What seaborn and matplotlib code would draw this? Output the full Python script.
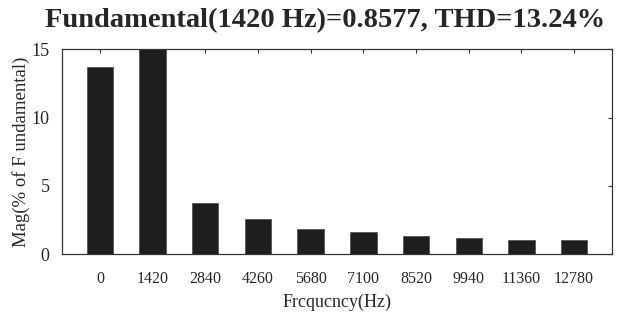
import pandas as pd
import matplotlib
matplotlib.use("Agg")
import matplotlib.pyplot as plt
import seaborn as sns

# Harmonic spectrum (% of fundamental)
freqs = ["0", "1420", "2840", "4260", "5680", "7100", "8520", "9940", "11360", "12780"]
mags = [13.7, 100.0, 3.74, 2.54, 1.86, 1.59, 1.30, 1.15, 1.0, 1.0]

title = "Fundamental(1420 Hz)=0.8577, THD=13.24%"

df = pd.DataFrame({"Frequency": freqs, "Mag": mags})

sns.set_style("white")
plt.rcParams['font.family'] = ['Liberation Serif', 'DejaVu Serif']

fig = plt.figure(figsize=(6.25, 3.14), dpi=100)
ax = fig.add_axes([0.0992, 0.191, 0.8800, 0.652])

sns.barplot(data=df, x="Frequency", y="Mag", order=freqs, color="#1e1e1e",
            width=0.5, edgecolor="#555555", linewidth=0.6, saturation=1, ax=ax)

ax.set_ylim(0, 15)
ax.set_xlim(-0.72, 9.72)
ax.set_yticks([0, 5, 10, 15])

ax.tick_params(axis="both", direction="in", length=3, width=0.8, color="#333333",
               top=True, right=True)
ax.tick_params(axis="x", labelsize=11.5, pad=12)
ax.tick_params(axis="y", labelsize=13, pad=9)
for s in ax.spines.values():
    s.set_color("#333333")
    s.set_linewidth(0.9)
    s.set_visible(True)

ax.set_xlabel("Frcqucncy(Hz)", fontsize=13, labelpad=5)
ax.set_ylabel("Mag(% of F undamental)", fontsize=13.5, labelpad=1)
fig.suptitle(title, fontsize=20.5, fontweight="bold", x=0.52, y=0.975)

fig.savefig("out.png", dpi=100)
